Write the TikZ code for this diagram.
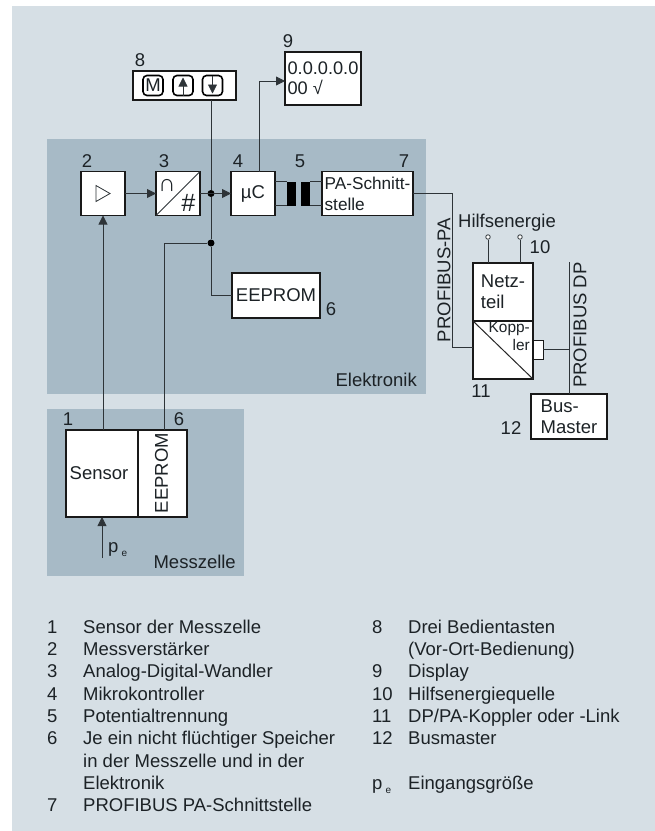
\documentclass[tikz,border=0pt]{standalone}
\usepackage{fontspec}
\setmainfont{Liberation Sans}
\usepackage{array}
\usepackage{tikz}
\usetikzlibrary{arrows.meta,positioning}
\definecolor{grund}{HTML}{D6DFE5}
\definecolor{feld}{HTML}{A7BAC6}
\definecolor{tinte}{HTML}{1C2226}
\definecolor{linie}{HTML}{2E3438}
\newcommand{\pindex}{p\,\raisebox{-4pt}{\fontsize{10}{10}\selectfont e}}

\begin{document}
\begin{tikzpicture}[x=1pt,y=-1pt,
  lbl/.style={inner sep=0pt,text=tinte,font=\fontsize{18.5}{21}\selectfont},
  box/.style={draw=black!90,fill=white,line width=1.4pt,inner sep=2pt,outer sep=0pt,
              text=tinte,align=left,font=\fontsize{18.5}{21}\selectfont},
  arr/.style={-{Triangle[length=9pt,width=9pt]},draw=linie,line width=.8pt},
  con/.style={draw=linie,line width=.8pt},
  dot/.style={circle,fill=black,inner sep=0pt,minimum size=7pt},
  hole/.style={circle,draw=linie,fill=white,line width=.8pt,inner sep=0pt,minimum size=4.5pt},
  taste/.style={draw=black,fill=white,line width=1.6pt,rounded corners=4pt,minimum size=20pt,
                inner sep=0pt,outer sep=0pt,text=tinte,font=\fontsize{18.5}{21}\selectfont},
  legende/.style={inner sep=0pt,anchor=north west,text=tinte,font=\fontsize{18.5}{22.3}\selectfont}
]
\fill[white] (0,0) rectangle (655,831);
\fill[grund] (12,6) rectangle (655,831);
\fill[feld] (47,139) rectangle (426,394);
\fill[feld] (47,409) rectangle (244,576);

% Elektronik
\node[box,minimum width=44pt,minimum height=44pt] (verst) at (103,193.5) {};
\node[box,minimum width=44pt,minimum height=44pt,right=31pt of verst] (adw) {};
\node[box,minimum width=44pt,minimum height=44pt,right=31pt of adw] (muc) {µC};
\node[box,minimum width=91pt,minimum height=44pt,right=47pt of muc,
      font=\fontsize{17.2}{21}\selectfont] (schnitt) {PA-Schnitt-\\stelle};
\node[box,minimum width=88pt,minimum height=45pt] (eeprom) at (276,295.5) {EEPROM};
\draw[line width=.8pt,draw=linie] ([shift={(-7,-8)}]verst.center) -- ([shift={(-7,8)}]verst.center)
  -- ([shift={(7,0)}]verst.center) -- cycle;
\draw[con,line width=1pt] (adw.south west) -- (adw.north east);
\node[lbl,font=\fontsize{24}{24}\selectfont] (schnittm) at (167,185) {∩};
\node[lbl,font=\fontsize{25}{25}\selectfont\itshape] (raute) at (188,203) {\#};
\node[fill=black,minimum width=9pt,minimum height=24pt,inner sep=0pt,outer sep=0pt] (trafoa) at (291.5,193.5) {};
\node[fill=black,minimum width=9pt,minimum height=24pt,inner sep=0pt,outer sep=0pt,right=5pt of trafoa] (trafob) {};

% Bedienung und Display
\node[box,minimum width=103pt,minimum height=29pt] (tasten) at (184.5,85.5) {};
\node[taste] (tm) at (153,85.5) {M};
\node[taste] (tauf) at (183,85.5) {};
\node[taste] (tab) at (212.5,85.5) {};
\draw[arr,shorten >=2pt] (tauf.south) -- (tauf.north);
\draw[arr,shorten >=2pt] (tab.north) -- (tab.south);
\node[box,minimum width=76pt,minimum height=53pt,font=\fontsize{18.2}{20}\selectfont] (disp) at (323,78.5)
  {0.0.0.0.0\\00 √};

% Messzelle
\node[box,minimum width=72pt,minimum height=87pt] (sensor) at (102,473.5) {Sensor\hspace*{6pt}};
\node[box,minimum width=49pt,minimum height=87pt,right=0pt of sensor] (eezelle) {};
\node[lbl,rotate=90] (eetext) at (161.5,473) {EEPROM};
\coordinate (pefuss) at (102,558);

% Netzteil, Koppler, Master
\node[box,minimum width=60pt,minimum height=58pt] (netz) at (503,292) {Netz-\\teil};
\node[box,minimum width=60pt,minimum height=58pt,below=0pt of netz] (koppler) {};
\draw[draw=black!85,line width=1pt] (koppler.north west) -- (koppler.south east);
\node[lbl,anchor=north east,align=right,font=\fontsize{15.4}{18}\selectfont] (kopptext) at (530,322) {Kopp-\\ler};
\node[box,line width=.9pt,minimum width=10pt,minimum height=19pt,right=0pt of koppler,yshift=.5pt] (stecker) {};
\node[box,minimum width=76pt,minimum height=45pt] (busm) at (569,416.5) {Bus-\\Master};
\node[hole] (hea) at (488,237) {};
\node[hole] (heb) at (520,237) {};
\coordinate (dpo) at (569,262);
\coordinate (paeck) at (452,347);

% Leitungen
\node[dot] (kn1) at (211,193.5) {};
\node[dot] (kn2) at (211,243) {};
\draw[arr] (verst) -- (adw);
\draw[arr] (adw) -- (muc);
\draw[arr] (sensor.north -| verst.south) -- (verst.south);
\draw[arr] (pefuss) -- (sensor.south);
\draw[arr] (muc.north -| 259,0) |- (disp.west |- 0,81);
\draw[con] (kn1 |- tasten.south) -- (kn1) -- (kn2) |- (eeprom.west);
\draw[con] ([xshift=2pt]eezelle.north) |- (kn2);
\draw[con] (muc.east |- trafoa.north) -- (trafoa.north west);
\draw[con] (muc.east |- trafoa.south) -- (trafoa.south west);
\draw[con] (trafob.north east) -- (trafob.north east -| schnitt.west);
\draw[con] (trafob.south east) -- (trafob.south east -| schnitt.west);
\draw[con] (schnitt.east) -| (paeck) -- (paeck -| koppler.west);
\draw[con] (hea) -- (hea |- netz.north);
\draw[con] (heb) -- (heb |- netz.north);
\draw[con] (stecker.east) -- (stecker.east -| busm.north);
\draw[con] (dpo) -- (busm.north);

% Beschriftung
\node[lbl] (nr8) at (140,60) {8};
\node[lbl] (nr9) at (288,41) {9};
\node[lbl] (nr2) at (87,161) {2};
\node[lbl] (nr3) at (164,161) {3};
\node[lbl] (nr4) at (238,161) {4};
\node[lbl] (nr5) at (300,161) {5};
\node[lbl] (nr7) at (404,161) {7};
\node[lbl] (nr6a) at (331,309) {6};
\node[lbl] (nr1) at (68,419) {1};
\node[lbl] (nr6b) at (179,419) {6};
\node[lbl] (nr10) at (540,247) {10};
\node[lbl] (nr11) at (481,391) {11};
\node[lbl] (nr12) at (511,428) {12};
\node[lbl,anchor=east] (elek) at (417,380) {Elektronik};
\node[lbl,anchor=east] (mess) at (236,562) {Messzelle};
\node[lbl,anchor=west] (pe) at (108,550) {\pindex};
\node[lbl] (hilf) at (507,223) {Hilfsenergie};
\node[lbl,rotate=90] (papa) at (444,280) {PROFIBUS-PA};
\node[lbl,rotate=90] (padp) at (580,325) {PROFIBUS DP};

% Legende
\node[legende] (legl) at (47,617.4) {\begin{tabular}{@{}p{36pt}@{}l@{}}
1 & Sensor der Messzelle\\
2 & Messverstärker\\
3 & Analog-Digital-Wandler\\
4 & Mikrokontroller\\
5 & Potentialtrennung\\
6 & Je ein nicht flüchtiger Speicher\\
  & in der Messzelle und in der\\
  & Elektronik\\
7 & PROFIBUS PA-Schnittstelle
\end{tabular}};
\node[legende] (legr) at (372,617.4) {\begin{tabular}{@{}p{36pt}@{}l@{}}
8 & Drei Bedientasten\\
  & (Vor-Ort-Bedienung)\\
9 & Display\\
10 & Hilfsenergiequelle\\
11 & DP/PA-Koppler oder -Link\\
12 & Busmaster\\
 & \\
\pindex & Eingangsgröße
\end{tabular}};
\end{tikzpicture}
\end{document}
